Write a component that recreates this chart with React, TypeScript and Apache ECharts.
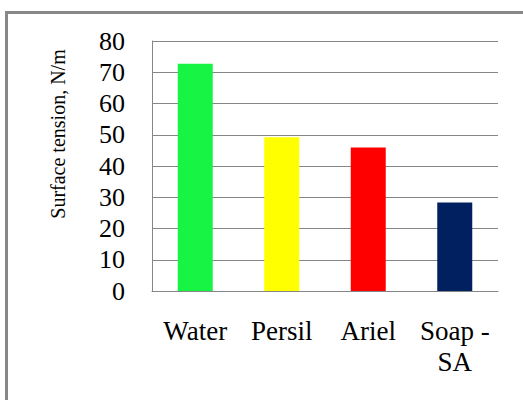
import React, { useEffect, useRef } from "react";
import * as echarts from "echarts";

const categories = ["Water", "Persil", "Ariel", "Soap -\nSA"];
const values = [72.7, 49.2, 45.9, 28.3];
const barColors = ["#17F443", "#FFFF00", "#FF0000", "#00205F"];
const yTicks = [0, 10, 20, 30, 40, 50, 60, 70, 80];
const yAxisTitle = "Surface tension, N/m";

export default function App() {
  const ref = useRef<HTMLDivElement>(null);
  useEffect(() => {
    if (!ref.current) return;
    const chart = echarts.init(ref.current, null, { renderer: "svg" });
    const font = "Liberation Serif";
    chart.setOption({
      animation: false,
      backgroundColor: "#ffffff",
      textStyle: { fontFamily: font },
      grid: { left: 152, right: 25, top: 41, bottom: 109, containLabel: false },
      xAxis: {
        type: "category",
        data: categories,
        axisLine: { show: true, lineStyle: { color: "#868686", width: 1 } },
        axisTick: { show: false },
        axisLabel: {
          color: "#000",
          fontFamily: font,
          fontSize: 27,
          lineHeight: 31,
          margin: 24,
          interval: 0,
        },
      },
      yAxis: {
        type: "value",
        min: yTicks[0],
        max: yTicks[yTicks.length - 1],
        interval: 10,
        axisLine: { show: true, lineStyle: { color: "#868686", width: 1 } },
        axisTick: { show: false },
        splitLine: { show: true, lineStyle: { color: "#868686", width: 1 } },
        axisLabel: {
          color: "#000",
          fontFamily: font,
          fontSize: 26,
          margin: 27,
        },
      },
      series: [
        {
          type: "bar",
          barWidth: 35,
          data: values.map((v, i) => ({ value: v, itemStyle: { color: barColors[i] } })),
        },
      ],
      graphic: [
        {
          type: "rect",
          shape: { x: 6.5, y: 12.5, width: 700, height: 600 },
          style: { fill: "none", stroke: "#888888", lineWidth: 3 },
          z: 100,
        },
        {
          type: "text",
          x: 58,
          y: 134,
          rotation: Math.PI / 2,
          style: {
            text: yAxisTitle,
            fontFamily: font,
            fontSize: 20,
            fill: "#000",
            align: "center",
            verticalAlign: "middle",
          },
        },
      ],
    });
    return () => chart.dispose();
  }, []);
  return (
    <div
      ref={ref}
      style={{ position: "fixed", left: 0, top: 0, width: 523, height: 400 }}
    />
  );
}
